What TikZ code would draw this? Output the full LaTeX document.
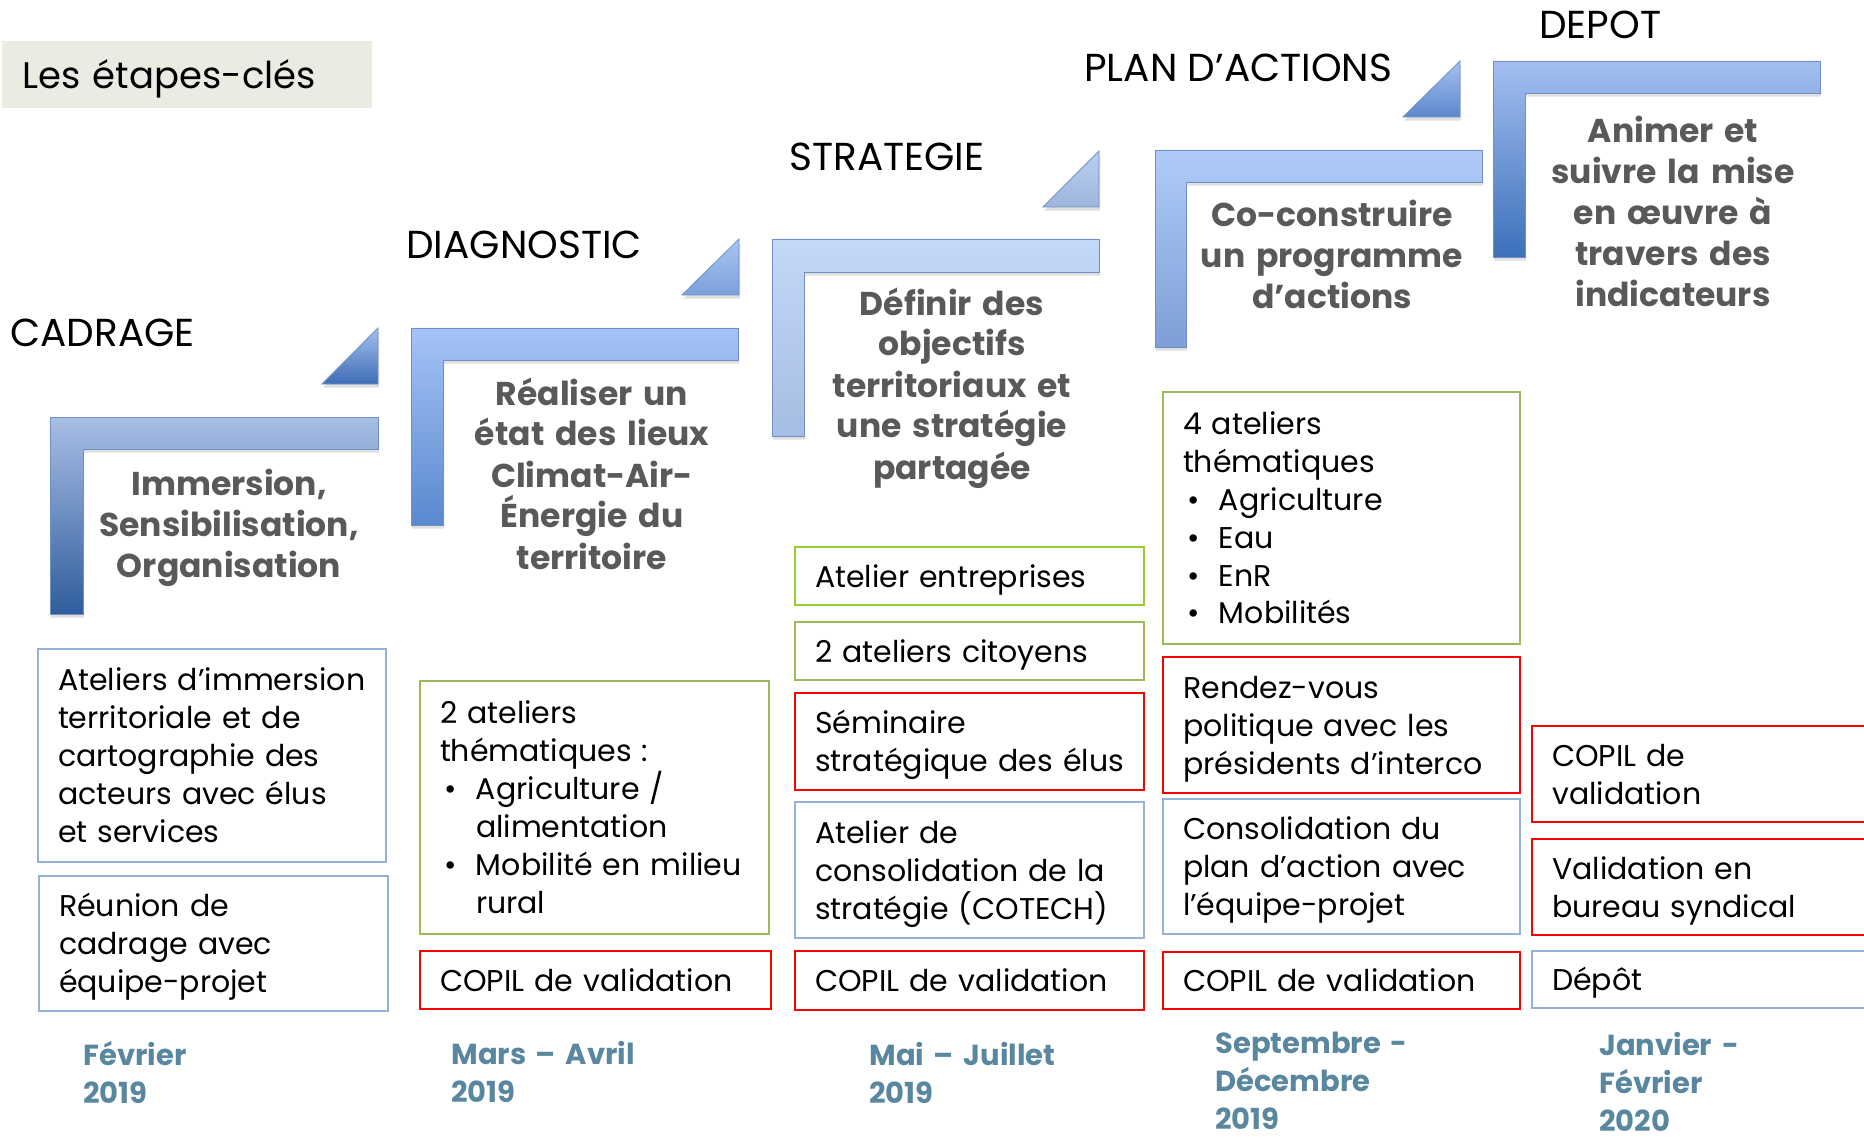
\documentclass[tikz,border=0pt]{standalone}
\usepackage{fontspec}
\setmainfont{Poppins}
\usepackage{tikz}
\usetikzlibrary{shadows}

\definecolor{titlefill}{HTML}{ECEBE2}
\definecolor{boxblue}{HTML}{95B3D7}
\definecolor{boxgreen}{HTML}{9BBB59}
\definecolor{boxlime}{HTML}{99CC33}
\definecolor{boxred}{HTML}{FF0000}
\definecolor{headgray}{HTML}{595959}
\definecolor{dateblue}{HTML}{5A87A0}
\definecolor{stepedge}{HTML}{7090C4}
% bracket colours (top / bottom)
\definecolor{cadTop}{HTML}{A8BEE5}\definecolor{cadBot}{HTML}{2F5D9C}
\definecolor{diaTop}{HTML}{A5C3F7}\definecolor{diaBot}{HTML}{5A89CF}
\definecolor{strTop}{HTML}{C4D8F8}\definecolor{strBot}{HTML}{A6BDE3}
\definecolor{plaTop}{HTML}{AFCBF8}\definecolor{plaBot}{HTML}{7E9FD6}
\definecolor{depTop}{HTML}{A3BFF0}\definecolor{depBot}{HTML}{3C70BA}
% triangle colours
\definecolor{cadTriTop}{HTML}{A3C0F0}\definecolor{cadTriBot}{HTML}{3E6DB5}
\definecolor{diaTriTop}{HTML}{A9C5F4}\definecolor{diaTriBot}{HTML}{7BA0DA}
\definecolor{strTriTop}{HTML}{BACFF2}\definecolor{strTriBot}{HTML}{9EB5DC}
\definecolor{plaTriTop}{HTML}{A5C1F1}\definecolor{plaTriBot}{HTML}{5C87CC}

\newcommand\boxfont{\fontsize{15}{19}\selectfont}
\newcommand\bul{\makebox[18pt][l]{\hspace{2pt}\textbullet}}
\newcommand\ind{\hspace*{18pt}}

\tikzset{
	>=latex,
	box/.style={draw, line width=1pt, anchor=north west, inner xsep=10pt, inner ysep=0pt,
		align=left, font=\boxfont},
	boxsize/.style 2 args={text width=#1*0.5pt-20pt, minimum height=#2*0.5pt},
	nlines/.style={text height=11pt, text depth=(#1-1)*19pt},
	bluebox/.style={box, draw=boxblue},
	greenbox/.style={box, draw=boxgreen},
	limebox/.style={box, draw=boxlime},
	redbox/.style={box, draw=boxred, line width=1.2pt},
	phase/.style={anchor=base west, inner sep=0pt, font=\fontsize{19.5}{22}\selectfont},
	heading/.style={anchor=base, inner sep=0pt, text width=180pt, align=center,
		text=headgray, font=\fontsize{16.5}{20.5}\selectfont\bfseries},
	when/.style={anchor=base west, inner sep=0pt, text width=110pt, align=left,
		text=dateblue, font=\fontsize{14.5}{19}\selectfont\bfseries},
	stepbar/.style 2 args={top color=#1, bottom color=#2, draw=stepedge, line width=0.4pt,
		drop shadow={opacity=0.25, shadow xshift=0.6pt, shadow yshift=-1.8pt}}
}

\begin{document}
\begin{tikzpicture}[x=0.5pt, y=-0.5pt]
	\useasboundingbox (0,0) rectangle (1864,1139);
	
	% title
	\node[anchor=north west, fill=titlefill, inner xsep=10pt, inner ysep=0pt, text width=165pt,
	minimum height=33.5pt, text height=13.5pt, text depth=0pt, align=left,
	font=\fontsize{18.5}{22}\selectfont] (title) at (2,41) {\mbox{Les étapes-clés}};
	
	% steps (brackets and triangles)
	\shade[stepbar={cadTop}{cadBot}] (50,417) -- (378,417) -- (378,449) -- (83,449) -- (83,614) -- (50,614) -- cycle;
	\shade[stepbar={cadTriTop}{cadTriBot}] (378,328) -- (378,384) -- (322,384) -- cycle;
	\shade[stepbar={diaTop}{diaBot}] (411,328) -- (738,328) -- (738,360) -- (443,360) -- (443,525) -- (411,525) -- cycle;
	\shade[stepbar={diaTriTop}{diaTriBot}] (739,239) -- (739,295) -- (682,295) -- cycle;
	\shade[stepbar={strTop}{strBot}] (772,239) -- (1099,239) -- (1099,272) -- (804,272) -- (804,436) -- (772,436) -- cycle;
	\shade[stepbar={strTriTop}{strTriBot}] (1099,151) -- (1099,207) -- (1043,207) -- cycle;
	\shade[stepbar={plaTop}{plaBot}] (1155,150) -- (1482,150) -- (1482,182) -- (1186,182) -- (1186,347) -- (1155,347) -- cycle;
	\shade[stepbar={plaTriTop}{plaTriBot}] (1460,61) -- (1460,117) -- (1403,117) -- cycle;
	\shade[stepbar={depTop}{depBot}] (1493,61) -- (1820,61) -- (1820,93) -- (1525,93) -- (1525,257) -- (1493,257) -- cycle;
	
	% phase names
	\node[phase] (cadrage) at (10,347) {CADRAGE};
	\node[phase] (diagnostic) at (406,259) {DIAGNOSTIC};
	\node[phase] (strategie) at (789,171) {STRATEGIE};
	\node[phase] (plan) at (1084,82) {PLAN D’ACTIONS};
	\node[phase] (depot) at (1539,39) {DEPOT};
	
	% goals
	\node[heading] (cadH) at (229,495) {Immersion,\\ Sensibilisation,\\ Organisation};
	\node[heading] (diaH) at (592,405) {Réaliser un\\ état des lieux\\ Climat-Air-\\ Énergie du\\ territoire};
	\node[heading] (strH) at (952,315) {Définir des\\ objectifs\\ territoriaux et\\ une stratégie\\ partagée};
	\node[heading] (plaH) at (1332,227) {Co-construire\\ un programme\\ d’actions};
	\node[heading] (depH) at (1673,143) {Animer et\\ suivre la mise\\ en œuvre à\\ travers des\\ indicateurs};
	
	% CADRAGE
	\node[bluebox, boxsize={348}{213}, nlines=5] (cadA) at (37,648)
	{Ateliers d’immersion\\ territoriale et de\\ cartographie des\\ acteurs avec élus\\ et services};
	\node[bluebox, boxsize={349}{135}, nlines=3] (cadB) at (38,875)
	{Réunion de\\ cadrage avec\\ équipe-projet};
	
	% DIAGNOSTIC
	\node[greenbox, boxsize={349}{253}, nlines=6] (diaA) at (419,680)
	{2 ateliers\\ thématiques :\\ \bul Agriculture /\\ \ind alimentation\\ \bul Mobilité en milieu\\ \ind rural};
	\node[redbox, boxsize={351}{58}, nlines=1] (diaB) at (419,950) {COPIL de validation};
	
	% STRATEGIE
	\node[limebox, boxsize={349}{58}, nlines=1] (strA) at (794,546) {Atelier entreprises};
	\node[greenbox, boxsize={349}{58}, nlines=1] (strB) at (794,621) {2 ateliers citoyens};
	\node[redbox, boxsize={349}{97}, nlines=2] (strC) at (794,692) {Séminaire\\ stratégique des élus};
	\node[bluebox, boxsize={349}{136}, nlines=3] (strD) at (794,801)
	{Atelier de\\ consolidation de la\\ stratégie (COTECH)};
	\node[redbox, boxsize={349}{59}, nlines=1] (strE) at (794,950) {COPIL de validation};
	
	% PLAN D'ACTIONS
	\node[greenbox, boxsize={357}{252}, nlines=6] (plaA) at (1162,391)
	{4 ateliers\\ thématiques\\ \bul Agriculture\\ \bul Eau\\ \bul EnR\\ \bul Mobilités};
	\node[redbox, boxsize={357}{136}, nlines=3] (plaB) at (1162,656)
	{Rendez-vous\\ politique avec les\\ présidents d’interco};
	\node[bluebox, boxsize={357}{135}, nlines=3] (plaC) at (1162,798)
	{Consolidation du\\ plan d’action avec\\ l’équipe-projet};
	\node[redbox, boxsize={357}{57}, nlines=1] (plaD) at (1162,951) {COPIL de validation};
	
	% DEPOT
	\node[redbox, boxsize={349}{96}, nlines=2] (depA) at (1531,725) {COPIL de\\ validation};
	\node[redbox, boxsize={349}{96}, nlines=2] (depB) at (1531,838) {Validation en\\ bureau syndical};
	\node[bluebox, boxsize={349}{57}, nlines=1] (depC) at (1531,950) {Dépôt};
	
	% dates
	\node[when] (dCad) at (83,1065) {Février\\ 2019};
	\node[when] (dDia) at (451,1064) {Mars – Avril\\ 2019};
	\node[when] (dStr) at (869,1065) {Mai – Juillet\\ 2019};
	\node[when] (dPla) at (1215,1053) {Septembre -\\ Décembre\\ 2019};
	\node[when] (dDep) at (1599,1055) {Janvier -\\ Février\\ 2020};
\end{tikzpicture}
\end{document}
